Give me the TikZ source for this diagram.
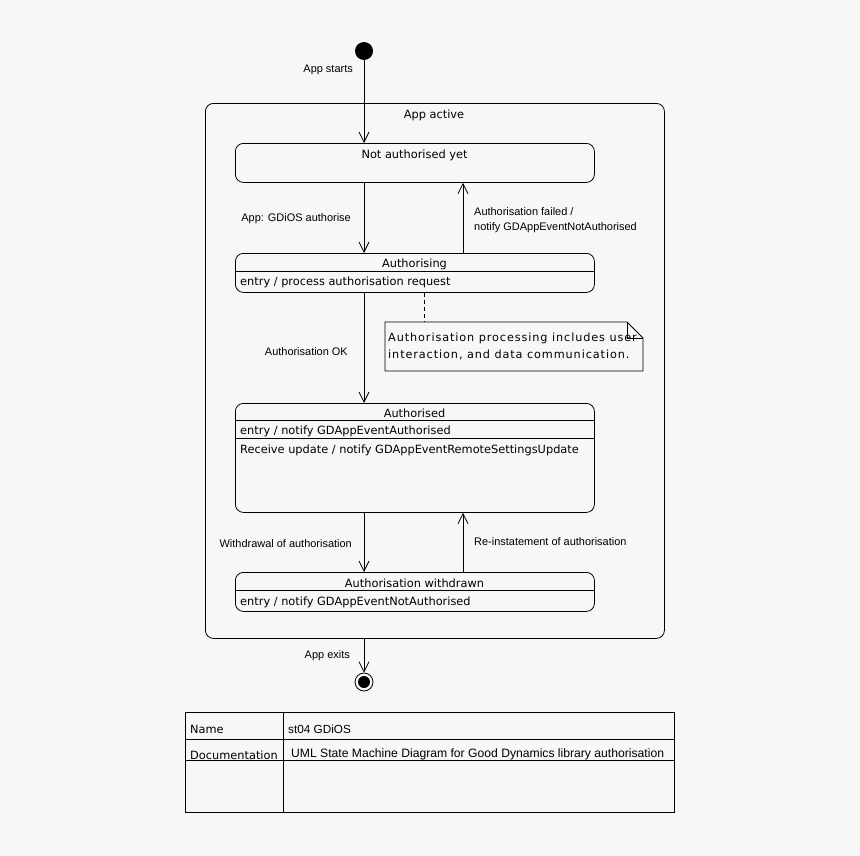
\documentclass[tikz,border=0pt]{standalone}
\usepackage{fontspec}
\setmainfont{Liberation Sans}
\newfontfamily\statefont{DejaVu Sans}
\newfontfamily\notefont[LetterSpace=8]{DejaVu Sans}
\usetikzlibrary{arrows.meta}
\definecolor{bgcol}{HTML}{F7F7F7}
\tikzset{
  lbl/.style={font=\fontsize{11}{13}\selectfont, inner sep=0pt, yshift=-1.5bp},
  sttext/.style={font=\statefont\fontsize{11.4}{13}\selectfont, inner sep=0pt, yshift=-1.5bp},
  notetext/.style={font=\notefont\fontsize{11.3}{13}\selectfont, inner sep=0pt, yshift=-1.5bp},
  state/.style={draw, rounded corners=8bp, line width=.8bp, anchor=north west, inner sep=0pt},
  trans/.style={->, line width=.8bp},
}
\begin{document}
\begin{tikzpicture}[x=1bp, y=-1bp, >={Straight Barb[length=10bp,width=10bp]}]
\fill[bgcol] (0,0) rectangle (860,856);
\useasboundingbox (0,0) rectangle (860,856);
\coordinate (cl) at (364,0);
\coordinate (cr) at (463,0);
\coordinate (cn) at (424,0);
% pseudo states
\node[circle, fill, minimum size=18bp, inner sep=0pt] (ini) at (364,51) {};
\node[circle, draw, line width=.8bp, minimum size=18bp, inner sep=0pt] (fin) at (364,682) {};
\fill (fin) circle (6bp);
% composite state
\node[state, minimum width=459bp, minimum height=535bp] (act) at (205,103) {};
\node[sttext, anchor=mid] at (434,114) {App active};
% states
\node[state, minimum width=359bp, minimum height=39bp] (nay) at (235,143) {};
\node[sttext, anchor=mid] at (414.5,154) {Not authorised yet};
\node[state, minimum width=359bp, minimum height=39bp] (ing) at (235,253) {};
\node[sttext, anchor=mid] at (414.5,263) {Authorising};
\draw[line width=.8bp] (235,271) -- (594,271);
\node[sttext, anchor=mid west] at (240,281) {entry / process authorisation request};
\node[state, minimum width=359bp, minimum height=109bp] (aut) at (235,403) {};
\node[sttext, anchor=mid] at (414.5,413) {Authorised};
\draw[line width=.8bp] (235,420) -- (594,420);
\node[sttext, anchor=mid west] at (240,430) {entry / notify GDAppEventAuthorised};
\draw[line width=.8bp] (235,438) -- (594,438);
\node[sttext, anchor=mid west] at (240,449) {Receive update / notify GDAppEventRemoteSettingsUpdate};
\node[state, minimum width=359bp, minimum height=39bp] (wdr) at (235,572) {};
\node[sttext, anchor=mid] at (414.5,583) {Authorisation withdrawn};
\draw[line width=.8bp] (235,590) -- (594,590);
\node[sttext, anchor=mid west] at (240,601) {entry / notify GDAppEventNotAuthorised};
% note
\node[anchor=north west, minimum width=258bp, minimum height=49bp, inner sep=0pt] (note) at (385,322) {};
\draw[line width=.8bp] (385,322) -- (627,322) -- (643,338) -- (643,371) -- (385,371) -- cycle;
\draw[line width=.8bp] (627,322) -- (627,338) -- (643,338);
\node[notetext, anchor=mid west] at (388,337) {Authorisation processing includes user};
\node[notetext, anchor=mid west] at (388,354) {interaction, and data communication.};
\draw[line width=.8bp, dash pattern=on 4bp off 3bp] (ing.south -| cn) -- (note.north -| cn);
% transitions
\draw[trans] (ini) -- (nay.north -| cl);
\node[lbl, anchor=mid east] at (353,68) {App starts};
\draw[trans] (nay.south -| cl) -- (ing.north -| cl);
\node[lbl, anchor=mid east] at (351,217) {App: GDiOS authorise};
\draw[trans] (ing.north -| cr) -- (nay.south -| cr);
\node[lbl, anchor=mid west] at (474,211) {Authorisation failed /};
\node[lbl, anchor=mid west] at (474,226) {notify GDAppEventNotAuthorised};
\draw[trans] (ing.south -| cl) -- (aut.north -| cl);
\node[lbl, anchor=mid east] at (348,351) {Authorisation OK};
\draw[trans] (aut.south -| cl) -- (wdr.north -| cl);
\node[lbl, anchor=mid east] at (352,543) {Withdrawal of authorisation};
\draw[trans] (wdr.north -| cr) -- (aut.south -| cr);
\node[lbl, anchor=mid west] at (474,541) {Re-instatement of authorisation};
\draw[trans] (act.south -| cl) -- (fin.north);
\node[lbl, anchor=mid east] at (350,654) {App exits};
% info table
\node[draw, line width=.8bp, anchor=north west, minimum width=489bp, minimum height=100bp, inner sep=0pt] (tab) at (185,712) {};
\draw[line width=.8bp] (283,712) -- (283,812);
\draw[line width=.8bp] (185,739) -- (674,739);
\draw[line width=.8bp] (185,760) -- (674,760);
\node[sttext, anchor=mid west] at (190,729) {Name};
\node[lbl, font=\fontsize{11.8}{13}\selectfont, anchor=mid west] at (288,729) {st04 GDiOS};
\node[sttext, anchor=mid west] at (190,755) {Documentation};
\node[lbl, font=\fontsize{12.2}{14}\selectfont, anchor=mid west] at (291,753) {UML State Machine Diagram for Good Dynamics library authorisation};
\end{tikzpicture}
\end{document}
